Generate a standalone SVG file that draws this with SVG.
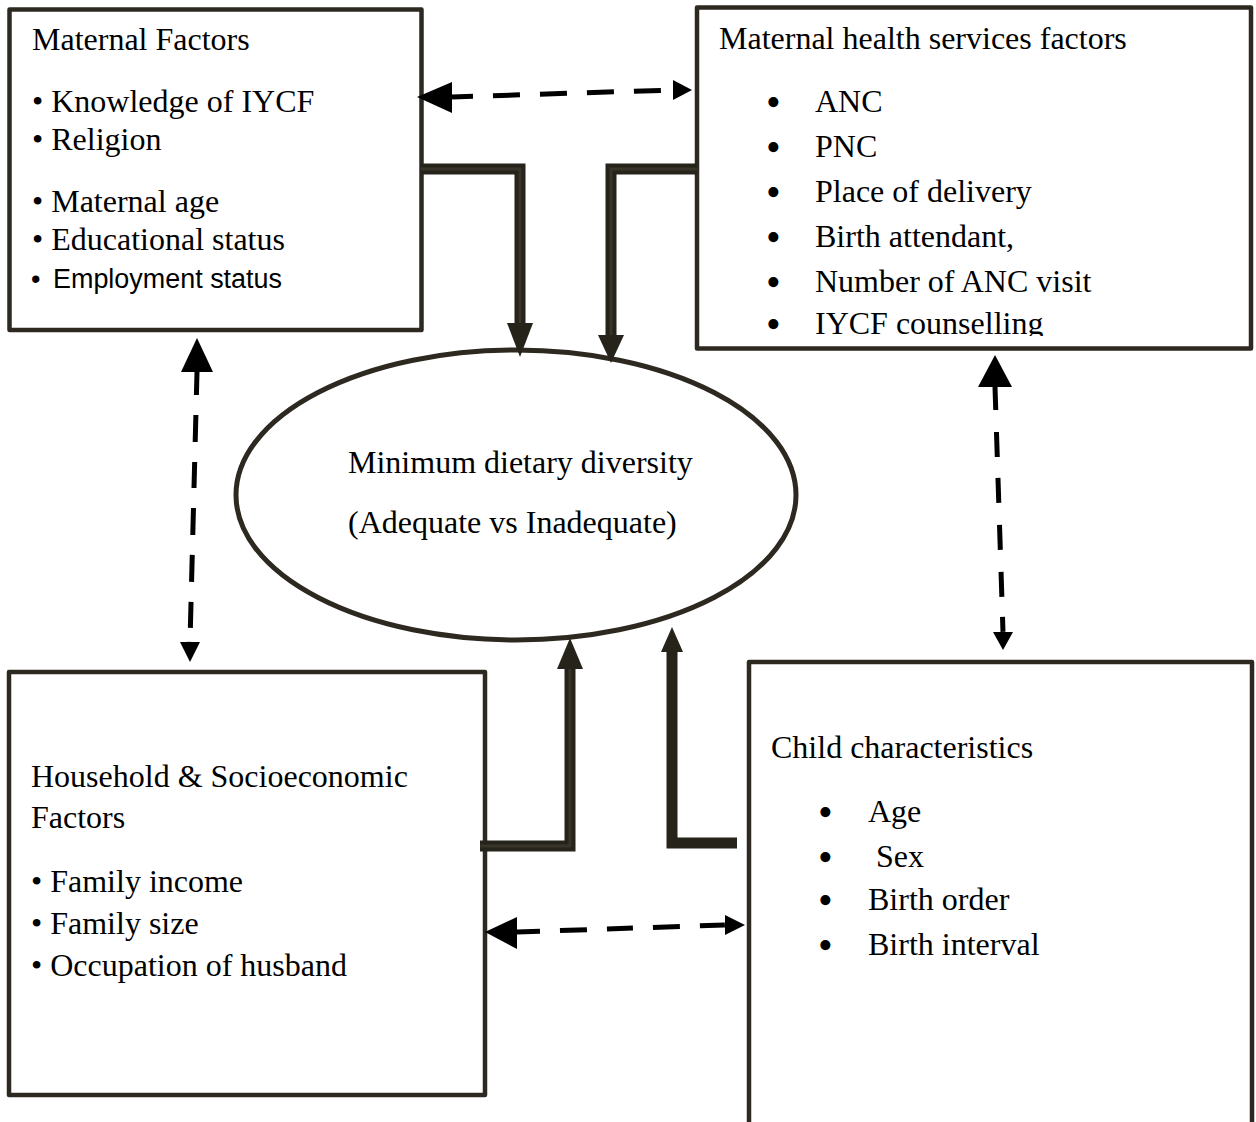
<svg xmlns="http://www.w3.org/2000/svg" width="1256" height="1122" viewBox="0 0 1256 1122">
<style>
.box{fill:#fff;stroke:#2d2920;stroke-width:4.5;stroke-linejoin:round}
.t{font-family:"Liberation Serif","Times New Roman",serif;font-size:32px;fill:#000}
.s{font-family:"Liberation Sans",Arial,sans-serif;font-size:27px;fill:#000}
.b{font-family:"Liberation Serif","Times New Roman",serif;font-size:42px;fill:#000}
.thick{fill:none;stroke:#26231a;stroke-width:11;stroke-linejoin:miter}
.inner{fill:none;stroke:#38342a;stroke-width:3}
.head{fill:#26231a}
.dash{fill:none;stroke:#000;stroke-width:5}
.dh{fill:#000}
</style>
<defs>
<clipPath id="clipB2"><rect x="697" y="7" width="556" height="329"/></clipPath>
</defs>
<rect width="1256" height="1122" fill="#fff"/>

<g id="node-maternal">
<rect class="box" x="9.5" y="9.5" width="412" height="320.5"/>
<text class="t" x="32" y="50">Maternal Factors</text>
<text class="t" x="32" y="112">• Knowledge of IYCF</text>
<text class="t" x="32" y="150">• Religion</text>
<text class="t" x="32" y="212">• Maternal age</text>
<text class="t" x="32" y="250">• Educational status</text>
<text class="s" x="31" y="288">•</text>
<text class="s" x="53" y="288" textLength="229" lengthAdjust="spacingAndGlyphs">Employment status</text>
</g>

<g id="node-services">
<rect class="box" x="697" y="7.5" width="554" height="341"/>
<text class="t" x="719" y="49">Maternal health services factors</text>
<g clip-path="url(#clipB2)">
<text class="b" x="766" y="116">•</text><text class="t" x="815" y="112">ANC</text>
<text class="b" x="766" y="161">•</text><text class="t" x="815" y="157">PNC</text>
<text class="b" x="766" y="206">•</text><text class="t" x="815" y="202">Place of delivery</text>
<text class="b" x="766" y="251">•</text><text class="t" x="815" y="247">Birth attendant,</text>
<text class="b" x="766" y="296">•</text><text class="t" x="815" y="292">Number of ANC visit</text>
<text class="b" x="766" y="338">•</text><text class="t" x="815" y="334">IYCF counselling</text>
</g>
</g>

<g id="node-outcome">
<ellipse cx="516" cy="495" rx="280" ry="145" fill="#fff" stroke="#2d2920" stroke-width="5"/>
<text class="t" x="348" y="473">Minimum dietary diversity</text>
<text class="t" x="348" y="533">(Adequate vs Inadequate)</text>
</g>

<g id="node-household">
<rect class="box" x="9" y="672" width="476" height="423"/>
<text class="t" x="31" y="787">Household &amp; Socioeconomic</text>
<text class="t" x="31" y="828">Factors</text>
<text class="t" x="31" y="892">• Family income</text>
<text class="t" x="31" y="934">• Family size</text>
<text class="t" x="31" y="976">• Occupation of husband</text>
</g>

<g id="node-child">
<rect class="box" x="749" y="662" width="503" height="480"/>
<text class="t" x="771" y="758">Child characteristics</text>
<text class="b" x="818" y="826">•</text><text class="t" x="868" y="822">Age</text>
<text class="b" x="818" y="871">•</text><text class="t" x="876" y="867">Sex</text>
<text class="b" x="818" y="914">•</text><text class="t" x="868" y="910">Birth order</text>
<text class="b" x="818" y="959">•</text><text class="t" x="868" y="955">Birth interval</text>
</g>

<g id="connectors">
<path class="thick" d="M421,169 H520 V324"/>
<path class="inner" d="M421,169 H520 V324"/>
<polygon class="head" points="507,323 533,323 520,357"/>

<path class="thick" d="M697,169 H611 V336"/>
<path class="inner" d="M697,169 H611 V336"/>
<polygon class="head" points="598,335 624,335 611,363"/>

<path class="thick" d="M480,846 H570 V668"/>
<path class="inner" d="M480,846 H570 V668"/>
<polygon class="head" points="557,669 583,669 570,638"/>

<path class="thick" d="M737,843 H672 V651"/>
<polygon class="head" points="661,652 683,652 672,627"/>

<line class="dash" x1="452" y1="97" x2="673" y2="90" stroke-dasharray="21 20 27 20 27 20 27 20 27 20"/>
<polygon class="dh" points="417,97 452,82 452,113"/>
<polygon class="dh" points="692,90 673,80 673,100"/>

<line class="dash" x1="197" y1="372" x2="190" y2="642" stroke-dasharray="23 20 27 20 26 20 27 20 27 20 26 14"/>
<polygon class="dh" points="197,338 181,372 213,372"/>
<polygon class="dh" points="190,662 180,642 200,642"/>

<line class="dash" x1="995" y1="387" x2="1003" y2="632" stroke-dasharray="23 22 25 21 25 22 25 22 25 20 15"/>
<polygon class="dh" points="995,355 978,387 1012,387"/>
<polygon class="dh" points="1003,650 993,632 1013,632"/>

<line class="dash" x1="517" y1="932" x2="725" y2="925" stroke-dasharray="23 20 27 20 26 20 27 20 25"/>
<polygon class="dh" points="485,932 517,917 517,949"/>
<polygon class="dh" points="745,925 725,915 725,935"/>
</g>
</svg>
